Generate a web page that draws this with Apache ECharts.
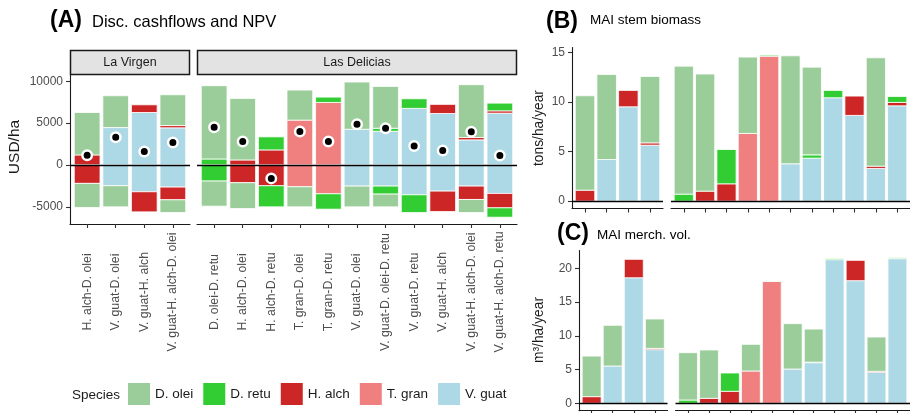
<!DOCTYPE html>
<html>
<head>
<meta charset="utf-8">
<script src="https://cdn.jsdelivr.net/npm/echarts@6/dist/echarts.min.js"></script>
<style>
  html, body { margin: 0; padding: 0; background: #ffffff; }
  #chart { width: 910px; height: 413px; }
</style>
</head>
<body>
<div id="chart"></div>
<script>
const species = ["D. olei", "D. retu", "H. alch", "T. gran", "V. guat"];
const speciesColors = ["#9acd99", "#32cd32", "#cd2626", "#f08080", "#add8e6"];

const virgenCats = ["H. alch-D. olei", "V. guat-D. olei", "V. guat-H. alch", "V. guat-H. alch-D. olei"];
const deliciasCats = [
  "D. olei-D. retu", "H. alch-D. olei", "H. alch-D. retu", "T. gran-D. olei", "T. gran-D. retu",
  "V. guat-D. olei", "V. guat-D. olei-D. retu", "V. guat-D. retu", "V. guat-H. alch",
  "V. guat-H. alch-D. olei", "V. guat-H. alch-D. retu"
];

// values: first 4 = La Virgen, next 11 = Las Delicias
// discounted revenue (positive part), USD/ha
const revOlei = [5070, 3800, 0, 3680, 8750, 7350, 0, 3590, 0, 5640, 5000, 0, 0, 6310, 0];
const revRetu = [0, 0, 0, 0, 720, 0, 1560, 0, 640, 0, 360, 1150, 0, 0, 920];
const revAlch = [1200, 0, 920, 270, 0, 600, 1800, 0, 0, 0, 0, 0, 1090, 280, 280];
const revGran = [0, 0, 0, 0, 0, 0, 0, 5360, 7470, 0, 0, 0, 0, 0, 0];
const revGuat = [0, 4470, 6270, 4440, 0, 0, 0, 0, 0, 4270, 4030, 6760, 6150, 3000, 6190];
// discounted costs (negative part), USD/ha
const costOlei = [-2870, -2520, 0, -1520, -3000, -3080, 0, -2400, 0, -2480, -1520, 0, 0, -1560, 0];
const costRetu = [0, 0, 0, 0, -1920, 0, -2520, 0, -1840, 0, -960, -2120, 0, 0, -1120];
const costAlch = [-2200, 0, -2400, -1520, 0, -2120, -2480, 0, 0, 0, 0, 0, -2440, -1600, -1720];
const costGran = [0, 0, 0, 0, 0, 0, 0, -2600, -3440, 0, 0, 0, 0, 0, 0];
const costGuat = [0, -2480, -3200, -2640, 0, 0, 0, 0, 0, -2520, -2520, -3560, -3120, -2520, -3400];
const npv = [1150, 3300, 1600, 2700, 4520, 2800, -1600, 4000, 2800, 4870, 4390, 2280, 1720, 3960, 1120];

// MAI stem biomass, tons/ha/year
const bioOlei = [9.52, 8.58, 0, 6.7, 12.91, 11.81, 0, 7.7, 0, 10.89, 8.85, 0, 0, 10.93, 0];
const bioRetu = [0, 0, 0, 0, 0.71, 0, 3.46, 0, 0.1, 0, 0.33, 0.74, 0, 0, 0.6];
const bioAlch = [1.11, 0, 1.65, 0.23, 0, 1.01, 1.75, 0, 0, 0, 0, 0, 1.95, 0.23, 0.34];
const bioGran = [0, 0, 0, 0, 0, 0, 0, 6.83, 14.63, 0, 0, 0, 0, 0, 0];
const bioGuat = [0, 4.2, 9.52, 5.65, 0, 0, 0, 0, 0, 3.77, 4.34, 10.43, 8.65, 3.3, 9.62];

// MAI merchantable volume, m3/ha/year
const volOlei = [6.01, 6.03, 0, 4.35, 7.01, 7.16, 0, 3.95, 0, 6.72, 4.9, 0, 0, 5.08, 0];
const volRetu = [0, 0, 0, 0, 0.49, 0, 2.71, 0, 0.03, 0, 0.08, 0.15, 0, 0, 0.1];
const volAlch = [0.99, 0, 2.73, 0.19, 0, 0.74, 1.78, 0, 0, 0, 0, 0, 3.01, 0.15, 0.05];
const volGran = [0, 0, 0, 0, 0, 0, 0, 4.79, 18.07, 0, 0, 0, 0, 0, 0];
const volGuat = [0, 5.53, 18.6, 7.95, 0, 0, 0, 0, 0, 5.08, 6.02, 21.28, 18.17, 4.59, 21.43];

const npvTicks = [-5000, 0, 5000, 10000];
const bioTicks = [0, 5, 10, 15];
const volTicks = [0, 5, 10, 15, 20];

const font = "Liberation Sans, Arial, sans-serif";
const axisText = "#4d4d4d";
const lineCol = "#1a1a1a";

const revenue = [revOlei, revRetu, revAlch, revGran, revGuat];
const cost = [costOlei, costRetu, costAlch, costGran, costGuat];
const biomass = [bioOlei, bioRetu, bioAlch, bioGran, bioGuat];
const volume = [volOlei, volRetu, volAlch, volGran, volGuat];

const facets = [
  { cats: virgenCats, from: 0 },
  { cats: deliciasCats, from: 4 },
];

// one entry per facet panel (box = ggplot panel incl. 0.6 category expansion)
const panels = [
  { box: { left: 70, top: 75, width: 120, height: 149 }, facet: 0, y: [-7050, 10750], ticks: npvTicks, sets: [revenue, cost], labels: true },
  { box: { left: 197, top: 75, width: 320, height: 149 }, facet: 1, y: [-7050, 10750], ticks: npvTicks, sets: [revenue, cost], labels: true },
  { box: { left: 572, top: 47.5, width: 91, height: 161 }, facet: 0, y: [-0.74, 15.5], ticks: bioTicks, sets: [biomass] },
  { box: { left: 671, top: 47.5, width: 239, height: 161 }, facet: 1, y: [-0.74, 15.5], ticks: bioTicks, sets: [biomass] },
  { box: { left: 579, top: 250.5, width: 88.5, height: 160.1 }, facet: 0, y: [-1.08, 22.64], ticks: volTicks, sets: [volume] },
  { box: { left: 675.5, top: 250.5, width: 234.5, height: 160.1 }, facet: 1, y: [-1.08, 22.64], ticks: volTicks, sets: [volume] },
];

// stack order, nearest zero first: V. guat, T. gran, H. alch, D. retu, D. olei
const stackOrder = [4, 3, 2, 1, 0];
const barFrac = 0.9;

// stack positives upward and negatives downward, per bar, like position_stack
function stackSegments(sets, facet) {
  const out = species.map(() => []);
  facet.cats.forEach((c, i) => {
    let pos = 0;
    let neg = 0;
    sets.forEach((set) => {
      stackOrder.forEach((s) => {
        const v = set[s][facet.from + i];
        if (v > 0) {
          out[s].push([i + 1, pos, pos + v]);
          pos += v;
        } else if (v < 0) {
          out[s].push([i + 1, neg, neg + v]);
          neg += v;
        }
      });
    });
  });
  return out;
}

function renderBar(params, api) {
  const x = api.value(0);
  const a = api.coord([x - barFrac / 2, api.value(1)]);
  const b = api.coord([x + barFrac / 2, api.value(2)]);
  return {
    type: "rect",
    shape: {
      x: a[0],
      y: Math.min(a[1], b[1]),
      width: b[0] - a[0],
      height: Math.abs(b[1] - a[1]),
    },
    style: {
      fill: api.visual("color"),
      stroke: "#ffffff",
      lineWidth: 0.8,
    },
  };
}

const grids = [];
const xAxes = [];
const yAxes = [];
const series = [];

const zeroLine = {
  silent: true,
  symbol: ["none", "none"],
  label: { show: false },
  lineStyle: { color: "#000000", width: 1.4, type: "solid" },
  data: [{ yAxis: 0 }],
};

panels.forEach((p, g) => {
  const facet = facets[p.facet];
  const n = facet.cats.length;
  const positions = facet.cats.map((c, i) => i + 1);
  const leftFacet = p.facet === 0;

  grids.push(Object.assign({ outerBoundsMode: "none", containLabel: false }, p.box));

  xAxes.push({
    type: "value",
    gridIndex: g,
    min: 0.4,
    max: n + 0.6,
    axisLine: { show: true, onZero: false, lineStyle: { color: lineCol, width: 1.1 } },
    axisTick: { show: true, length: 4, customValues: positions, lineStyle: { color: "#333333", width: 1.1 } },
    axisLabel: p.labels ? {
      show: true,
      customValues: positions,
      formatter: (v) => facet.cats[Math.round(v) - 1],
      rotate: 90,
      align: "center",
      verticalAlign: "middle",
      margin: 68,
      fontSize: 12.3,
      fontFamily: font,
      color: axisText,
    } : { show: false },
    splitLine: { show: false },
  });

  yAxes.push({
    type: "value",
    gridIndex: g,
    min: p.y[0],
    max: p.y[1],
    axisLine: { show: leftFacet, onZero: false, lineStyle: { color: lineCol, width: 1.1 } },
    axisTick: { show: leftFacet, length: 4, customValues: p.ticks, lineStyle: { color: "#333333", width: 1.1 } },
    axisLabel: {
      show: leftFacet,
      customValues: p.ticks,
      formatter: (v) => String(v),
      margin: 7,
      fontSize: 12,
      fontFamily: font,
      color: axisText,
    },
    splitLine: { show: false },
  });

  const segments = stackSegments(p.sets, facet);
  stackOrder.forEach((s) => {
    series.push({
      type: "custom",
      name: species[s],
      xAxisIndex: g,
      yAxisIndex: g,
      renderItem: renderBar,
      encode: { x: 0, y: [1, 2] },
      data: segments[s],
      itemStyle: { color: speciesColors[s] },
      emphasis: { disabled: true },
      z: 2,
    });
  });

  series.push({
    type: "scatter",
    name: "NPV",
    xAxisIndex: g,
    yAxisIndex: g,
    data: p.labels ? positions.map((x, i) => [x, npv[facet.from + i]]) : [],
    symbol: "circle",
    symbolSize: 9.5,
    itemStyle: { color: "#000000", borderColor: "#ffffff", borderWidth: 2.5, opacity: 1 },
    emphasis: { disabled: true },
    markLine: zeroLine,
    z: 6,
  });
});

const strip = (x, w, label) => [
  {
    type: "rect",
    shape: { x: x, y: 50.5, width: w, height: 24 },
    style: { fill: "#e3e3e3", stroke: lineCol, lineWidth: 1.5 },
  },
  {
    type: "text",
    x: x + w / 2,
    y: 62.5,
    style: { text: label, fontSize: 12.5, fontFamily: font, fill: "#1a1a1a", align: "center", verticalAlign: "middle" },
  },
];

const txt = (x, y, text, size, opts) => ({
  type: "text",
  x: x,
  y: y,
  rotation: (opts && opts.rot) || 0,
  style: Object.assign({
    text: text, fontSize: size, fontFamily: font, fill: "#000000",
    align: "left", verticalAlign: "middle",
  }, (opts && opts.style) || {}),
});

const graphics = [].concat(
  strip(70.5, 119, "La Virgen"),
  strip(197.5, 319, "Las Delicias"),
  [
    txt(50, 21, "(A)", 23, { style: { fontWeight: "bold" } }),
    txt(92, 22, "Disc. cashflows and NPV", 16.5),
    txt(546, 21.5, "(B)", 23, { style: { fontWeight: "bold" } }),
    txt(590, 20, "MAI stem biomass", 13.5),
    txt(557, 234, "(C)", 23, { style: { fontWeight: "bold" } }),
    txt(597, 235, "MAI merch. vol.", 13.5),
    txt(15, 147, "USD/ha", 15.5, { rot: Math.PI / 2, style: { align: "center", fill: "#1a1a1a" } }),
    txt(539, 128, "tons/ha/year", 13.8, { rot: Math.PI / 2, style: { align: "center", fill: "#1a1a1a" } }),
    txt(539, 330, "m³/ha/year", 13.8, { rot: Math.PI / 2, style: { align: "center", fill: "#1a1a1a" } }),
    txt(72, 395, "Species", 13.5, { style: { fill: "#1a1a1a" } }),
  ]
);

const chart = echarts.init(document.getElementById("chart"), null, { renderer: "canvas" });
chart.setOption({
  animation: false,
  backgroundColor: "#ffffff",
  grid: grids,
  xAxis: xAxes,
  yAxis: yAxes,
  legend: {
    data: species,
    left: 128,
    top: 383,
    orient: "horizontal",
    icon: "rect",
    itemWidth: 22,
    itemHeight: 22,
    itemGap: 10,
    padding: 0,
    selectedMode: false,
    textStyle: { fontSize: 13.5, fontFamily: font, color: "#1a1a1a" },
  },
  graphic: graphics,
  series: series,
});
</script>
</body>
</html>
